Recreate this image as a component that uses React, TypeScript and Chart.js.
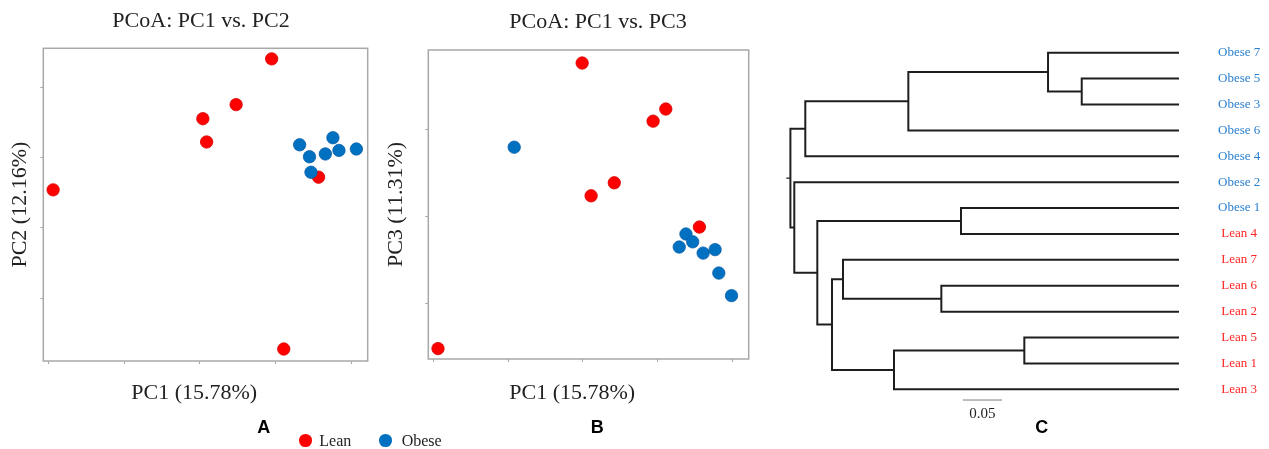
import React, { useEffect, useRef } from "react";
import { Chart, registerables } from "chart.js";

Chart.register(...registerables);

const SERIF = '"Liberation Serif", "Times New Roman", Times, serif';
const SANS = '"Liberation Sans", Arial, Helvetica, sans-serif';
const INK = "#222222";

// ---------------- data ----------------
const groupNames = ["Lean", "Obese"];
const groupColors: Record<string, string> = { Lean: "#ff0000", Obese: "#0070c0" };
const groupBorders: Record<string, string> = { Lean: "#d80000", Obese: "#0a5fa8" };
const labelColors: Record<string, string> = { Lean: "#ff2424", Obese: "#2a80d0" };

// Panel A: PC1 vs PC2
const leanPC1_A = [0.095, 0.048, 0.004, 0.009, -0.194, 0.157, 0.111];
const leanPC2_A = [0.240, 0.175, 0.155, 0.122, 0.054, 0.072, -0.172];
const obesePC1_A = [0.132, 0.145, 0.166, 0.176, 0.184, 0.207, 0.147];
const obesePC2_A = [0.118, 0.101, 0.105, 0.128, 0.110, 0.112, 0.079];

// Panel B: PC1 vs PC3
const leanPC1_B = [-0.001, 0.111, 0.094, 0.042, 0.011, 0.156, -0.194];
const leanPC3_B = [0.177, 0.124, 0.110, 0.039, 0.024, -0.012, -0.152];
const obesePC1_B = [-0.092, 0.138, 0.147, 0.129, 0.161, 0.177, 0.182, 0.199];
const obesePC3_B = [0.080, -0.020, -0.029, -0.035, -0.042, -0.038, -0.065, -0.091];

// axis ticks / ranges
const pc1Ticks = [-0.2, -0.1, 0, 0.1, 0.2];
const pc2Ticks = [-0.1, 0, 0.1, 0.2];
const pc3Ticks = [-0.1, 0, 0.1];
const pc1Range = [-0.207, 0.222];
const pc2Range = [-0.189, 0.255];
const pc3Range = [-0.164, 0.192];

// Panel C: dendrogram (leaf order top to bottom)
const leafLabels = [
  "Obese 7", "Obese 5", "Obese 3", "Obese 6", "Obese 4", "Obese 2", "Obese 1",
  "Lean 4", "Lean 7", "Lean 6", "Lean 2", "Lean 5", "Lean 1", "Lean 3",
];
const leafGroups = [
  "Obese", "Obese", "Obese", "Obese", "Obese", "Obese", "Obese",
  "Lean", "Lean", "Lean", "Lean", "Lean", "Lean", "Lean",
];
// merge i creates node id = 14 + i
const mergeLeft = [1, 0, 15, 16, 6, 9, 8, 11, 21, 20, 18, 5, 17];
const mergeRight = [2, 14, 3, 4, 7, 10, 19, 12, 13, 22, 23, 24, 25];
const mergeHeight = [0.1247, 0.1679, 0.347, 0.4791, 0.2795, 0.3047, 0.4308, 0.1983, 0.3654, 0.4449, 0.4637, 0.4932, 0.4982];
const rootStub = 0.0053;
const scaleBarLength = 0.05;

// ---------------- plugins ----------------
const plotBoxPlugin = {
  id: "plotBox",
  beforeDatasetsDraw(chart: any, _a: any, opts: any) {
    const { ctx, chartArea } = chart;
    const { left, top, right, bottom } = chartArea;
    ctx.save();
    ctx.strokeStyle = opts.color || "#a8a8a8";
    ctx.lineWidth = opts.width || 1.5;
    ctx.strokeRect(left, top, right - left, bottom - top);
    ctx.restore();
  },
};

const captionPlugin = {
  id: "caption",
  afterDraw(chart: any, _a: any, opts: any) {
    if (!opts || !opts.text) return;
    const { ctx } = chart;
    ctx.save();
    ctx.fillStyle = opts.color || INK;
    ctx.font = opts.font;
    ctx.textAlign = "center";
    ctx.textBaseline = "alphabetic";
    ctx.fillText(opts.text, opts.x, opts.y);
    ctx.restore();
  },
};

const scaleBarPlugin = {
  id: "scaleBar",
  afterDatasetsDraw(chart: any, _a: any, opts: any) {
    const { ctx } = chart;
    const xs = chart.scales.x;
    const ys = chart.scales.y;
    const x1 = xs.getPixelForValue(opts.start);
    const x2 = xs.getPixelForValue(opts.start - opts.length);
    const py = ys.getPixelForValue(opts.y);
    ctx.save();
    ctx.strokeStyle = "#7a7a7a";
    ctx.lineWidth = 1;
    ctx.beginPath();
    ctx.moveTo(x1, py);
    ctx.lineTo(x2, py);
    ctx.stroke();
    ctx.fillStyle = INK;
    ctx.font = `15px ${SERIF}`;
    ctx.textAlign = "center";
    ctx.textBaseline = "alphabetic";
    ctx.fillText(opts.length.toFixed(2), (x1 + x2) / 2, py + opts.labelOffset);
    ctx.restore();
  },
};

// ---------------- helpers ----------------
function pts(xs: number[], ys: number[]) {
  return xs.map((x, i) => ({ x, y: ys[i] }));
}

function groupDataset(name: string, xs: number[], ys: number[], order: number) {
  return {
    label: name,
    data: pts(xs, ys),
    backgroundColor: groupColors[name],
    borderColor: groupBorders[name],
    pointRadius: 6.2,
    pointHoverRadius: 6.2,
    pointBorderWidth: 0.8,
    order,
  };
}

const tickGrid = {
  display: true,
  drawOnChartArea: false,
  drawTicks: true,
  tickLength: 3,
  color: "#a8a8a8",
  lineWidth: 1,
};

function scatterConfig(p: any) {
  return {
    type: "scatter",
    data: { datasets: p.datasets },
    plugins: [plotBoxPlugin, captionPlugin],
    options: {
      responsive: false,
      animation: false,
      events: [],
      layout: { padding: { left: 0, right: 0, top: 0, bottom: 0 } },
      scales: {
        x: {
          type: "linear",
          min: pc1Range[0],
          max: pc1Range[1],
          afterBuildTicks: (s: any) => { s.ticks = pc1Ticks.map((v) => ({ value: v })); },
          afterFit: (s: any) => { s.height = p.xAxisHeight; s.paddingLeft = 0; s.paddingRight = 0; },
          grid: tickGrid,
          border: { display: false },
          ticks: { display: false },
        },
        y: {
          type: "linear",
          position: "left",
          min: p.yRange[0],
          max: p.yRange[1],
          afterBuildTicks: (s: any) => { s.ticks = p.yTicks.map((v: number) => ({ value: v })); },
          afterFit: (s: any) => { s.width = p.yAxisWidth; s.paddingTop = 0; s.paddingBottom = 0; },
          grid: tickGrid,
          border: { display: false },
          ticks: { display: false },
          title: {
            display: true,
            text: p.yTitle,
            color: INK,
            font: { family: SERIF, size: 22, lineHeight: 1.2 },
            padding: { top: p.yTitlePad, bottom: 0 },
          },
        },
        yGap: {
          type: "linear",
          position: "right",
          display: true,
          afterFit: (s: any) => { s.width = p.rightGap; s.paddingTop = 0; s.paddingBottom = 0; },
          grid: { display: false, drawTicks: false },
          border: { display: false },
          ticks: { display: false },
        },
      },
      plugins: {
        legend: { display: false },
        tooltip: { enabled: false },
        title: {
          display: true,
          text: p.title,
          color: INK,
          font: { family: SERIF, size: 22, weight: "normal", lineHeight: 1.2 },
          padding: { top: p.titlePadTop, bottom: p.titlePadBottom },
        },
        plotBox: { color: "#a8a8a8", width: 1.5 },
        caption: { text: p.xTitle, x: p.xTitleX, y: p.xTitleY, font: `22px ${SERIF}`, color: INK },
      },
    },
  };
}

function dendrogramConfig() {
  const nodeH: number[] = leafLabels.map(() => 0);
  const nodeY: number[] = leafLabels.map((_, i) => i);
  const segments = mergeLeft.map((l, i) => {
    const r = mergeRight[i];
    const h = mergeHeight[i];
    const seg = [
      { x: nodeH[l], y: nodeY[l] },
      { x: h, y: nodeY[l] },
      { x: h, y: nodeY[r] },
      { x: nodeH[r], y: nodeY[r] },
    ];
    nodeH.push(h);
    nodeY.push((nodeY[l] + nodeY[r]) / 2);
    return seg;
  });
  const root = nodeH.length - 1;
  const datasets: any[] = segments.map((seg) => ({
    data: seg,
    showLine: true,
    borderColor: "#1e1e1e",
    borderWidth: 2,
    pointRadius: 0,
    borderJoinStyle: "miter",
  }));
  datasets.push({
    data: [
      { x: nodeH[root], y: nodeY[root] },
      { x: nodeH[root] + rootStub, y: nodeY[root] },
    ],
    showLine: true,
    borderColor: "#1e1e1e",
    borderWidth: 1.2,
    pointRadius: 0,
  });

  return {
    type: "scatter",
    data: { datasets },
    plugins: [scaleBarPlugin],
    options: {
      responsive: false,
      animation: false,
      events: [],
      layout: { padding: { left: 13.4, right: 0, top: 39.75, bottom: 46.75 } },
      scales: {
        x: { type: "linear", reverse: true, min: 0, max: 0.52, display: false },
        y: {
          type: "linear",
          position: "right",
          reverse: true,
          min: -0.5,
          max: leafLabels.length - 0.5,
          afterBuildTicks: (s: any) => { s.ticks = leafLabels.map((_, i) => ({ value: i })); },
          afterFit: (s: any) => { s.width = 90; s.paddingTop = 0; s.paddingBottom = 0; },
          grid: { display: false, drawTicks: false, tickLength: 0 },
          border: { display: false },
          ticks: {
            autoSkip: false,
            padding: 39,
            crossAlign: "center",
            font: { family: SERIF, size: 13 },
            color: (c: any) => (c.tick ? labelColors[leafGroups[c.tick.value]] : INK),
            callback: (v: any) => leafLabels[v as number],
          },
        },
      },
      plugins: {
        legend: { display: false },
        tooltip: { enabled: false },
        scaleBar: { start: 0.277, length: scaleBarLength, y: 13.414, labelOffset: 18.3 },
      },
    },
  };
}

// ---------------- components ----------------
function ChartCanvas(props: { make: () => any; left: number; width: number; height: number }) {
  const ref = useRef<HTMLCanvasElement | null>(null);
  useEffect(() => {
    if (!ref.current) return;
    const chart = new Chart(ref.current, props.make());
    return () => chart.destroy();
  }, []);
  return (
    <canvas
      ref={ref}
      width={props.width}
      height={props.height}
      style={{ position: "absolute", left: props.left, top: 0, width: props.width, height: props.height }}
    />
  );
}

function PanelLetter(props: { text: string; x: number; top: number }) {
  return (
    <div
      style={{
        position: "absolute",
        left: props.x - 20,
        top: props.top,
        width: 40,
        textAlign: "center",
        font: `bold 18px ${SANS}`,
        lineHeight: "18px",
        color: "#000",
      }}
    >
      {props.text}
    </div>
  );
}

function LegendItem(props: { name: string; dotX: number; textX: number }) {
  return (
    <>
      <div
        style={{
          position: "absolute",
          left: props.dotX - 6.35,
          top: 440.6 - 6.35,
          width: 12.7,
          height: 12.7,
          borderRadius: "50%",
          background: groupColors[props.name],
        }}
      />
      <div
        style={{
          position: "absolute",
          left: props.textX,
          top: 433.3,
          font: `16px ${SERIF}`,
          lineHeight: "16px",
          color: INK,
          whiteSpace: "nowrap",
        }}
      >
        {props.name}
      </div>
    </>
  );
}

export default function App() {
  const makeA = () =>
    scatterConfig({
      datasets: [
        groupDataset(groupNames[0], leanPC1_A, leanPC2_A, 2),
        groupDataset(groupNames[1], obesePC1_A, obesePC2_A, 1),
      ],
      title: "PCoA: PC1 vs. PC2",
      titlePadTop: 7.8,
      titlePadBottom: 14.1,
      yTitle: "PC2 (12.16%)",
      yTitlePad: 7.5,
      yTicks: pc2Ticks,
      yRange: pc2Range,
      yAxisWidth: 43.3,
      rightGap: 34.3,
      xAxisHeight: 88,
      xTitle: "PC1 (15.78%)",
      xTitleX: 194.2,
      xTitleY: 399.3,
    });
  const makeB = () =>
    scatterConfig({
      datasets: [
        groupDataset(groupNames[0], leanPC1_B, leanPC3_B, 1),
        groupDataset(groupNames[1], obesePC1_B, obesePC3_B, 2),
      ],
      title: "PCoA: PC1 vs. PC3",
      titlePadTop: 9.1,
      titlePadBottom: 14.5,
      yTitle: "PC3 (11.31%)",
      yTitlePad: 3.5,
      yTicks: pc3Ticks,
      yRange: pc3Range,
      yAxisWidth: 48.3,
      rightGap: 67.3,
      xAxisHeight: 90,
      xTitle: "PC1 (15.78%)",
      xTitleX: 192.2,
      xTitleY: 399,
    });

  return (
    <div style={{ position: "absolute", left: 0, top: 0, width: 1269, height: 449, overflow: "hidden", background: "#fff" }}>
      <ChartCanvas make={makeA} left={0} width={402} height={449} />
      <ChartCanvas make={makeB} left={380} width={436} height={449} />
      <ChartCanvas make={dendrogramConfig} left={760} width={509} height={449} />
      <PanelLetter text="A" x={263.7} top={418.1} />
      <PanelLetter text="B" x={597.3} top={417.5} />
      <PanelLetter text="C" x={1041.7} top={417.8} />
      <LegendItem name={groupNames[0]} dotX={305.3} textX={319.3} />
      <LegendItem name={groupNames[1]} dotX={385.7} textX={401.7} />
    </div>
  );
}
